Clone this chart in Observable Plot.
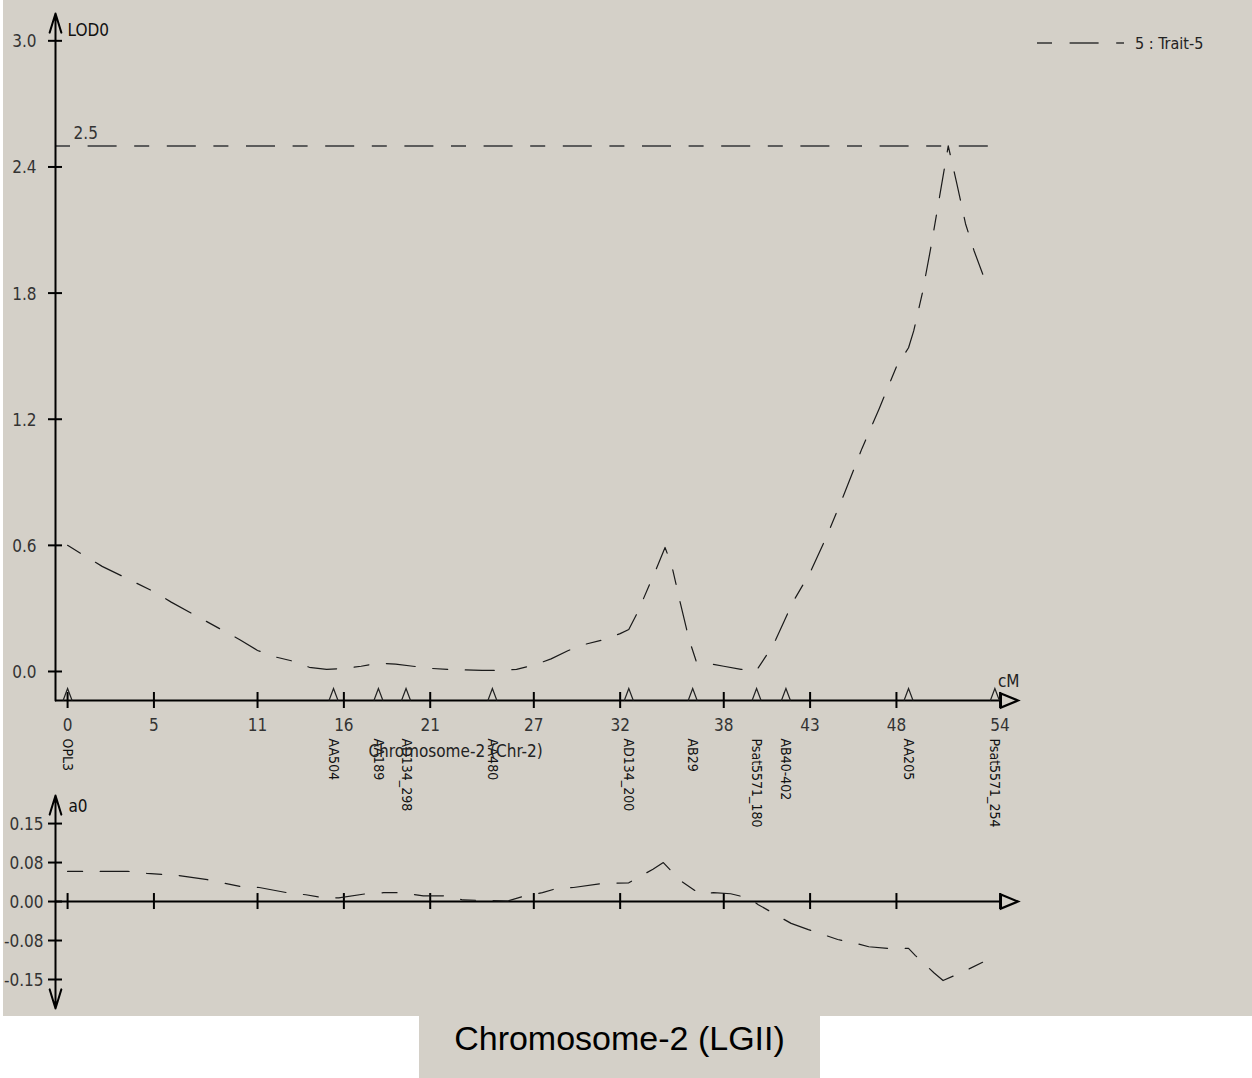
<!DOCTYPE html>
<html>
<head>
<meta charset="utf-8">
<script src="https://cdn.jsdelivr.net/npm/d3@7"></script>
<script src="https://cdn.jsdelivr.net/npm/@observablehq/plot@0.6"></script>
<style>
  body { margin: 0; background: #ffffff; }
  #wrap { position: relative; width: 1252px; height: 1078px; overflow: hidden; background: #ffffff; }
  #bg { position: absolute; left: 3px; top: 0px; width: 1249px; height: 1016px; background: #d4d0c8; }
  #topPanel, #botPanel { position: absolute; left: 3px; }
  #topPanel { top: 3px; }
  #botPanel { top: 785px; }
  #legend { position: absolute; left: 1037px; top: 34px; height: 18px; width: 200px; }
  #legend svg { position: absolute; left: 0; top: 0; }
  #legend span { position: absolute; left: 98px; top: 0px; font: 16px "Liberation Sans Narrow", "Arial Narrow", "DejaVu Sans Condensed", sans-serif; color: #222; white-space: nowrap; }
  #title { position: absolute; left: 419px; top: 1016px; width: 401px; height: 62px; background: #d4d0c8;
           font: 34px "Liberation Sans", Arial, sans-serif; line-height: 44px; text-align: center; color: #000; white-space: nowrap; }
</style>
</head>
<body>
<div id="wrap">
  <div id="bg"></div>
  <div id="topPanel"></div>
  <div id="botPanel"></div>
  <div id="legend">
    <svg width="92" height="18"><line x1="0" y1="9" x2="87" y2="9" stroke="#333" stroke-width="1.5" stroke-dasharray="15,17.6,29,17.6"></line></svg>
    <span>5 : Trait-5</span>
  </div>
  <div id="title">Chromosome-2 (LGII)</div>
</div>
<script>
// ---------------- data ----------------
const markerNames = ["OPL3", "AA504", "AA189", "AD134_298", "AA480", "AD134_200", "AB29", "Psat5571_180", "AB40-402", "AA205", "Psat5571_254"];
const markerPos   = [0, 15.4, 18.0, 19.6, 24.6, 32.5, 36.2, 39.9, 41.6, 48.7, 53.7];

const xTickValues = [0, 5, 11, 16, 21, 27, 32, 38, 43, 48, 54];
const xTickLabels = ["0", "5", "11", "16", "21", "27", "32", "38", "43", "48", "54"];

const lodTickValues = [0, 0.6, 1.2, 1.8, 2.4, 3.0];
const lodTickLabels = ["0.0", "0.6", "1.2", "1.8", "2.4", "3.0"];
const lodThreshold = 2.5;

const lodCM  = [0, 2, 4, 5, 6, 8, 10, 11, 12, 13, 14, 15, 16, 17, 18, 19, 20, 21, 22, 24, 25, 26, 27, 28, 29, 30, 31, 32, 32.5, 33, 34, 34.6, 35, 35.5, 36, 36.4, 37, 38, 39, 39.9, 40.5, 41, 42, 43, 44, 45, 46, 47, 48, 48.7, 49, 49.5, 50, 50.5, 51, 51.5, 52, 52.5, 53];
const lodVal = [0.60, 0.50, 0.42, 0.38, 0.33, 0.24, 0.15, 0.10, 0.07, 0.05, 0.02, 0.01, 0.015, 0.025, 0.04, 0.035, 0.025, 0.015, 0.01, 0.005, 0.005, 0.01, 0.03, 0.06, 0.10, 0.13, 0.15, 0.18, 0.20, 0.28, 0.47, 0.59, 0.50, 0.32, 0.15, 0.05, 0.04, 0.025, 0.01, 0.005, 0.08, 0.15, 0.33, 0.47, 0.65, 0.85, 1.06, 1.25, 1.45, 1.54, 1.62, 1.80, 2.02, 2.26, 2.50, 2.32, 2.13, 2.00, 1.89];

const a0TickValues = [-0.15, -0.075, 0, 0.075, 0.15];
const a0TickLabels = ["-0.15", "-0.08", "0.00", "0.08", "0.15"];

const a0CM  = [0, 3.5, 4.6, 6.4, 8.1, 10.0, 11.1, 12.7, 13.8, 14.7, 15.7, 17.3, 18.3, 19.2, 20.6, 21.9, 22.9, 25.5, 26.4, 27.5, 28.3, 29.3, 31.0, 32.5, 32.8, 33.9, 34.5, 35.5, 36.6, 37.4, 38.4, 39.5, 40.0, 41.1, 41.9, 42.9, 44.6, 45.7, 46.4, 47.5, 48.7, 49.1, 50.2, 50.7, 52.0, 53.1];
const a0Val = [0.058, 0.058, 0.054, 0.050, 0.042, 0.029, 0.027, 0.017, 0.013, 0.008, 0.007, 0.015, 0.017, 0.017, 0.011, 0.011, 0.003, 0.001, 0.010, 0.017, 0.025, 0.027, 0.035, 0.036, 0.042, 0.062, 0.075, 0.040, 0.015, 0.017, 0.015, 0.006, -0.006, -0.027, -0.042, -0.054, -0.073, -0.081, -0.087, -0.090, -0.090, -0.104, -0.138, -0.152, -0.133, -0.115];

const chartLabel = "Chromosome-2 (Chr-2)";

// ---------------- layout / style ----------------
const FF = '"Liberation Sans Narrow", "Arial Narrow", "DejaVu Sans Condensed", sans-serif';
const DASH = "15,17.6,29,17.6";
const xDom = [-0.7, 55.3];
const xMin = xDom[0];
const xAxisEnd = 54.05;
const W = 1249;

// closed right-pointing triangle (axis arrow head)
const arrowRight = { draw(ctx) { ctx.moveTo(0, -7); ctx.lineTo(17, 0); ctx.lineTo(0, 7); ctx.closePath(); } };
// marker glyph: open tall triangle standing on the axis
const markerGlyph = { draw(ctx) { ctx.moveTo(-4.5, 0); ctx.lineTo(0, -12); ctx.lineTo(4.5, 0); } };

// ---------------- top panel (LOD) ----------------
const lodDom = [-0.138, 3.13];
const lodBase = lodDom[0];
const lodData = lodCM.map((c, i) => ({cm: c, v: lodVal[i]}));
const markers = markerNames.map((n, i) => ({name: n, cm: markerPos[i]}));
const xTicks = xTickValues.map((v, i) => ({v, label: xTickLabels[i]}));
const lodTicks = lodTickValues.map((v, i) => ({v, label: lodTickLabels[i]}));

const topChart = Plot.plot({
  width: W, height: 830,
  marginLeft: 52, marginRight: 230, marginTop: 10, marginBottom: 133,
  style: {background: "transparent", overflow: "visible", fontFamily: FF},
  x: {domain: xDom, axis: null},
  y: {domain: lodDom, axis: null},
  marks: [
    Plot.ruleY([lodThreshold], {x1: () => xMin, x2: () => 53.35, stroke: "#5c5c5c", strokeWidth: 2, strokeDasharray: DASH}),
    Plot.text([lodThreshold], {x: () => 1.05, y: d => d, text: d => String(d), dy: -12, fontSize: 17, fill: "#333"}),
    Plot.ruleY([lodBase], {x1: () => xMin, x2: () => xAxisEnd, stroke: "#000", strokeWidth: 2}),
    Plot.dot([lodBase], {x: () => xAxisEnd, y: d => d, symbol: arrowRight, r: 5, fill: "none", stroke: "#000", strokeWidth: 2.2}),
    Plot.arrow([0], {x1: () => xMin, y1: () => lodBase, x2: () => xMin, y2: () => lodDom[1], stroke: "#000", strokeWidth: 2, headAngle: 34, headLength: 15}),
    Plot.ruleX(xTicks, {x: "v", y1: () => lodBase, y2: () => lodBase, insetTop: -8, insetBottom: -8, stroke: "#000", strokeWidth: 2}),
    Plot.ruleY(lodTicks, {y: "v", x1: () => xMin, x2: () => xMin, insetLeft: -7, insetRight: -7, stroke: "#000", strokeWidth: 2}),
    Plot.text(lodTicks, {x: () => xMin, y: "v", text: "label", textAnchor: "end", dx: -19, dy: 1, fontSize: 17, fill: "#333"}),
    Plot.text(xTicks, {x: "v", y: () => lodBase, text: "label", dy: 25, fontSize: 17, fill: "#333"}),
    Plot.dot(markers, {x: "cm", y: () => lodBase, symbol: markerGlyph, r: 5, fill: "none", stroke: "#222", strokeWidth: 1.2}),
    Plot.text(markers, {x: "cm", y: () => lodBase, text: "name", rotate: 90, textAnchor: "start", dy: 38, fontSize: 14, fill: "#111"}),
    Plot.text([chartLabel], {x: () => 22.47, y: () => lodBase, text: d => d, dy: 51, fontSize: 17, fill: "#222"}),
    Plot.text(["LOD0"], {x: () => xMin, y: () => 3.05, text: d => d, textAnchor: "start", dx: 12, fontSize: 17, fill: "#111"}),
    Plot.text(["cM"], {x: () => 54.5, y: () => lodBase, text: d => d, dy: -19, fontSize: 17, fill: "#222"}),
    Plot.line(lodData, {x: "cm", y: "v", stroke: "#1a1a1a", strokeWidth: 1.2, strokeDasharray: DASH})
  ]
});
document.getElementById("topPanel").appendChild(topChart);

// ---------------- bottom panel (a0) ----------------
const a0Dom = [-0.2058, 0.204];
const a0Data = a0CM.map((c, i) => ({cm: c, v: a0Val[i]}));
const a0Ticks = a0TickValues.map((v, i) => ({v, label: a0TickLabels[i]}));

const botChart = Plot.plot({
  width: W, height: 231,
  marginLeft: 52, marginRight: 230, marginTop: 10, marginBottom: 8,
  style: {background: "transparent", overflow: "visible", fontFamily: FF},
  x: {domain: xDom, axis: null},
  y: {domain: a0Dom, axis: null},
  marks: [
    Plot.ruleY([0], {x1: () => xMin, x2: () => xAxisEnd, stroke: "#000", strokeWidth: 2}),
    Plot.dot([0], {x: () => xAxisEnd, y: d => d, symbol: arrowRight, r: 5, fill: "none", stroke: "#000", strokeWidth: 2.2}),
    Plot.arrow([0], {x1: () => xMin, y1: () => 0, x2: () => xMin, y2: () => a0Dom[1], stroke: "#000", strokeWidth: 2, headAngle: 34, headLength: 15}),
    Plot.arrow([0], {x1: () => xMin, y1: () => 0, x2: () => xMin, y2: () => a0Dom[0], stroke: "#000", strokeWidth: 2, headAngle: 34, headLength: 15}),
    Plot.ruleX(xTicks, {x: "v", y1: () => 0, y2: () => 0, insetTop: -8, insetBottom: -8, stroke: "#000", strokeWidth: 2}),
    Plot.ruleY(a0Ticks, {y: "v", x1: () => xMin, x2: () => xMin, insetLeft: -7, insetRight: -7, stroke: "#000", strokeWidth: 2}),
    Plot.text(a0Ticks, {x: () => xMin, y: "v", text: "label", textAnchor: "end", dx: -12, dy: 1, fontSize: 17, fill: "#333"}),
    Plot.text(["a0"], {x: () => xMin, y: () => 0.183, text: d => d, textAnchor: "start", dx: 13, fontSize: 17, fill: "#111"}),
    Plot.line(a0Data, {x: "cm", y: "v", stroke: "#1a1a1a", strokeWidth: 1.2, strokeDasharray: DASH})
  ]
});
document.getElementById("botPanel").appendChild(botChart);
</script>
</body>
</html>
